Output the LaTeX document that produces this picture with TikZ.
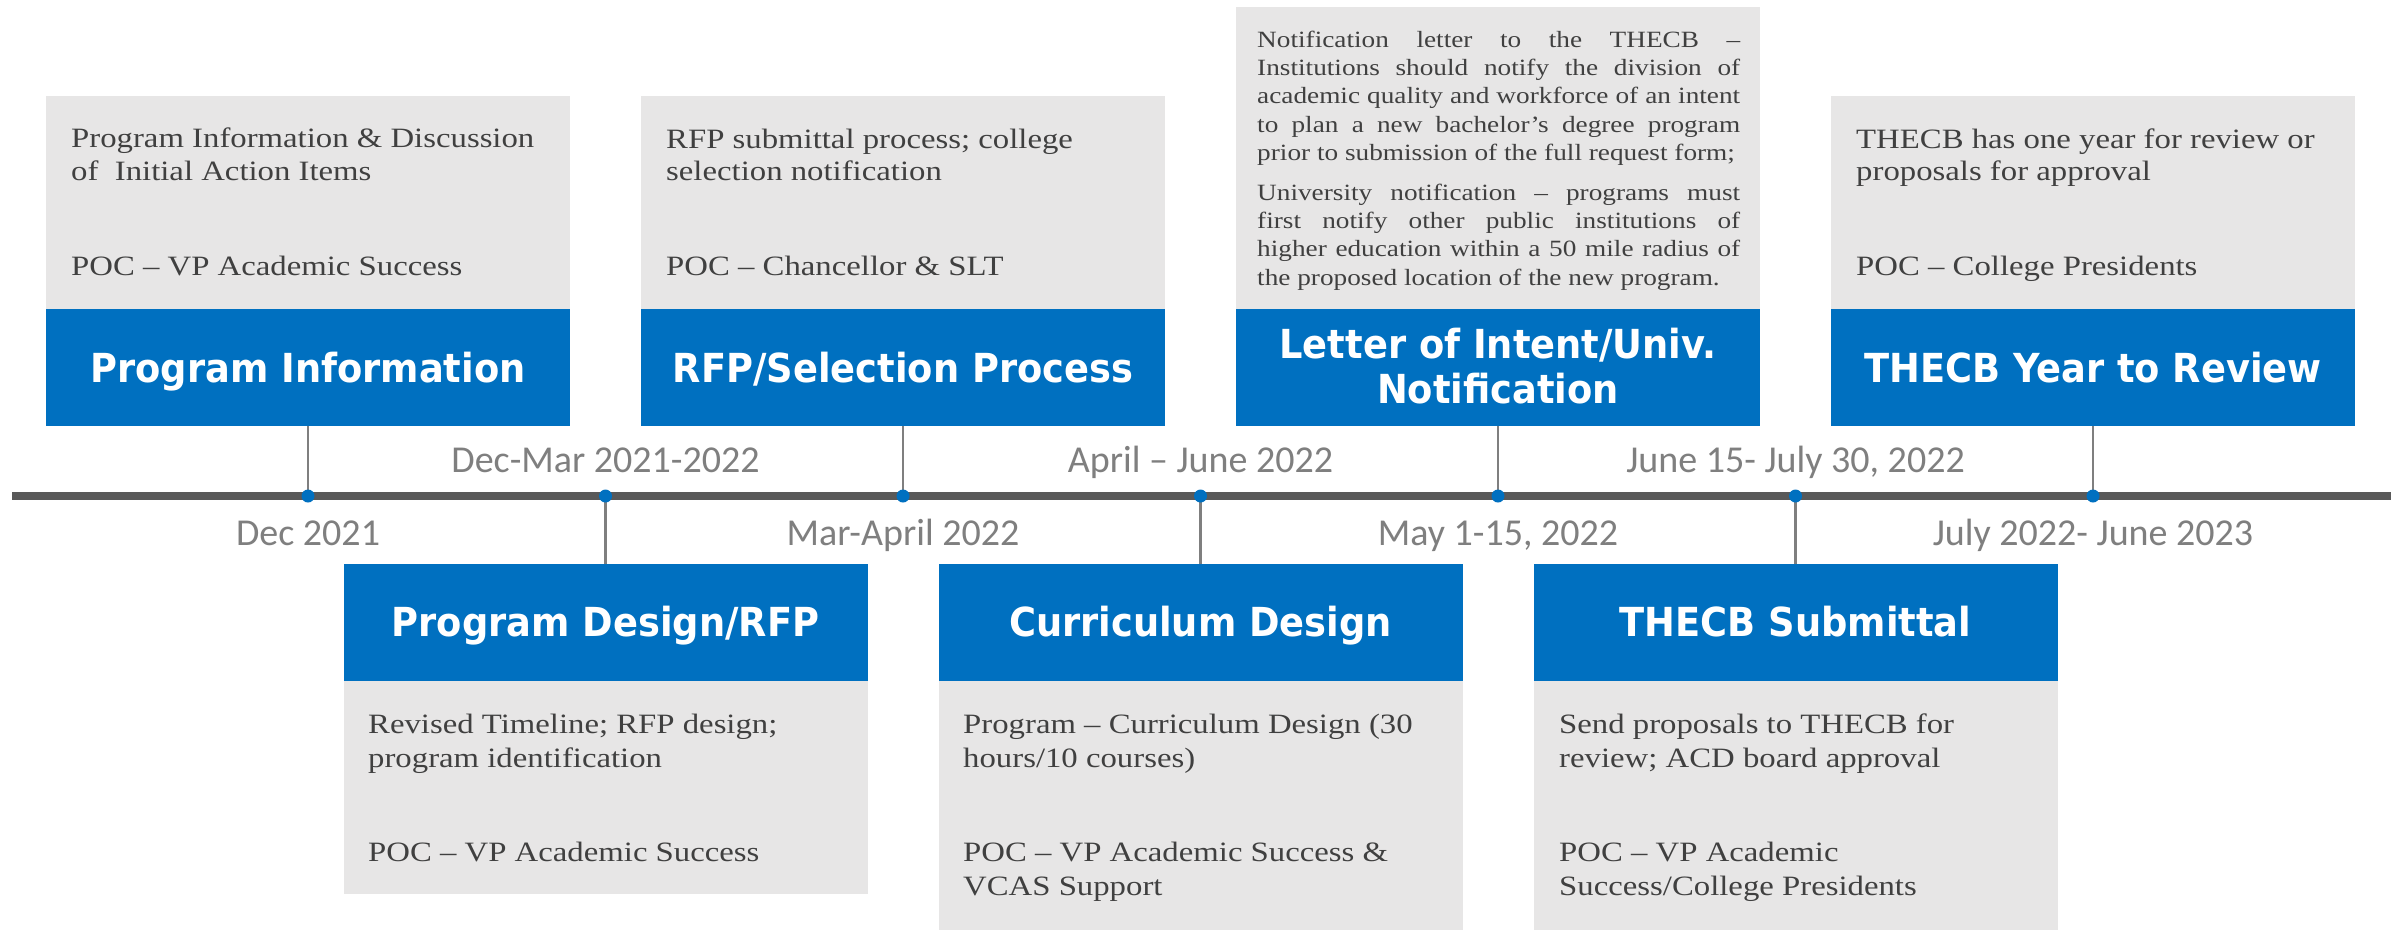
\documentclass[tikz,border=0pt]{standalone}
\usepackage{fontspec}
\setmainfont{Liberation Serif}
\newfontfamily\bodyf[FakeStretch=1.17]{Liberation Serif}
\newfontfamily\headf[FakeStretch=0.92]{DejaVu Sans Bold}
\newfontfamily\datef{Carlito}
\definecolor{hblue}{HTML}{0070C0}
\definecolor{boxgray}{HTML}{E7E6E6}
\definecolor{bodygray}{HTML}{404040}
\definecolor{dategray}{HTML}{7F7F7F}
\definecolor{conngray}{HTML}{7F7F7F}
\definecolor{linegray}{HTML}{595959}
\begin{document}
\begin{tikzpicture}[x=1pt,y=-1pt,
  graybox/.style={fill=boxgray, draw=none, inner sep=0pt, minimum width=524pt},
  bluebox/.style={fill=hblue, draw=none, inner sep=0pt, minimum width=524pt, minimum height=117pt},
  htext/.style={text=white, font=\headf\fontsize{40}{45}\selectfont, inner sep=0pt, anchor=base},
  btext/.style={text=bodygray, font=\bodyf\fontsize{28}{33}\selectfont, inner sep=0pt, anchor=base west},
  ltext/.style={text=bodygray, font=\bodyf\fontsize{23.3}{28}\selectfont, inner sep=0pt, anchor=base west},
  dtext/.style={text=dategray, font=\datef\fontsize{38}{44}\selectfont, inner sep=0pt, anchor=base},
  conn/.style={draw=conngray, line width=2.5pt},
  tline/.style={draw=linegray, line width=8pt},
  tdot/.style={circle, fill=hblue, draw=none, inner sep=0pt, minimum size=13pt}]
\path[use as bounding box, fill=white] (0,0) rectangle (2402,930);

% dot positions
\coordinate (p1) at (308,496);
\coordinate (p2) at (605.5,496);
\coordinate (p3) at (903,496);
\coordinate (p4) at (1200.5,496);
\coordinate (p5) at (1498,496);
\coordinate (p6) at (1795.5,496);
\coordinate (p7) at (2093,496);
\coordinate (tl) at (12,496);
\coordinate (tr) at (2391,496);

% ---- top boxes
\node[graybox, anchor=north, minimum height=213pt] (g1) at (308,96) {};
\node[bluebox, anchor=north] (b1) at (308,309) {};
\node[htext] (h1) at (308,382) {Program Information};
\node[btext] (t1a) at (71,147) {Program Information \& Discussion};
\node[btext] (t1b) at (71,180) {of\ \ Initial Action Items};
\node[btext] (t1c) at (71,275) {POC – VP Academic Success};

\node[graybox, anchor=north, minimum height=213pt] (g3) at (903,96) {};
\node[bluebox, anchor=north] (b3) at (903,309) {};
\node[htext] (h3) at (903,382) {RFP/Selection Process};
\node[btext] (t3a) at (666,148) {RFP submittal process; college};
\node[btext] (t3b) at (666,180) {selection notification};
\node[btext] (t3c) at (666,275) {POC – Chancellor \& SLT};

\node[graybox, anchor=north, minimum height=302pt] (g5) at (1498,7) {};
\node[bluebox, anchor=north] (b5) at (1498,309) {};
\node[htext] (h5a) at (1498,358) {Letter of Intent/Univ.};
\node[htext] (h5b) at (1498,403) {Notification};
\node[ltext] (t5a) at (1257,47) {\makebox[483pt][s]{Notification letter to the THECB –}};
\node[ltext] (t5b) at (1257,75.3) {\makebox[483pt][s]{Institutions should notify the division of}};
\node[ltext] (t5c) at (1257,103.6) {\makebox[483pt][s]{academic quality and workforce of an intent}};
\node[ltext] (t5d) at (1257,132) {\makebox[483pt][s]{to plan a new bachelor’s degree program}};
\node[ltext] (t5e) at (1257,160.3) {prior to submission of the full request form;};
\node[ltext] (t5f) at (1257,200) {\makebox[483pt][s]{University notification – programs must}};
\node[ltext] (t5g) at (1257,228.3) {\makebox[483pt][s]{first notify other public institutions of}};
\node[ltext] (t5h) at (1257,256.6) {\makebox[483pt][s]{higher education within a 50 mile radius of}};
\node[ltext] (t5i) at (1257,285) {the proposed location of the new program.};

\node[graybox, anchor=north, minimum height=213pt] (g7) at (2093,96) {};
\node[bluebox, anchor=north] (b7) at (2093,309) {};
\node[htext] (h7) at (2093,382) {THECB Year to Review};
\node[btext] (t7a) at (1856,148) {THECB has one year for review or};
\node[btext] (t7b) at (1856,180) {proposals for approval};
\node[btext] (t7c) at (1856,275) {POC – College Presidents};

% ---- bottom boxes
\node[bluebox, anchor=north] (b2) at (605.5,564) {};
\node[graybox, anchor=north, minimum height=213pt] (g2) at (605.5,681) {};
\node[htext] (h2) at (605.5,636) {Program Design/RFP};
\node[btext] (t2a) at (368,733) {Revised Timeline; RFP design;};
\node[btext] (t2b) at (368,767) {program identification};
\node[btext] (t2c) at (368,861) {POC – VP Academic Success};

\node[bluebox, anchor=north] (b4) at (1200.5,564) {};
\node[graybox, anchor=north, minimum height=249pt] (g4) at (1200.5,681) {};
\node[htext] (h4) at (1200.5,636) {Curriculum Design};
\node[btext] (t4a) at (963,733) {Program – Curriculum Design (30};
\node[btext] (t4b) at (963,767) {hours/10 courses)};
\node[btext] (t4c) at (963,861) {POC – VP Academic Success \&};
\node[btext] (t4d) at (963,895) {VCAS Support};

\node[bluebox, anchor=north] (b6) at (1795.5,564) {};
\node[graybox, anchor=north, minimum height=249pt] (g6) at (1795.5,681) {};
\node[htext] (h6) at (1795.5,636) {THECB Submittal};
\node[btext] (t6a) at (1559,733) {Send proposals to THECB for};
\node[btext] (t6b) at (1559,767) {review; ACD board approval};
\node[btext] (t6c) at (1559,861) {POC – VP Academic};
\node[btext] (t6d) at (1559,895) {Success/College Presidents};

% ---- timeline
\draw[tline] (tl) -- (tr);
\draw[conn] (b1.south) -- (p1);
\draw[conn] (b3.south) -- (p3);
\draw[conn] (b5.south) -- (p5);
\draw[conn] (b7.south) -- (p7);
\draw[conn] (p2) -- (b2.north);
\draw[conn] (p4) -- (b4.north);
\draw[conn] (p6) -- (b6.north);
\node[tdot] (d1) at (p1) {};
\node[tdot] (d2) at (p2) {};
\node[tdot] (d3) at (p3) {};
\node[tdot] (d4) at (p4) {};
\node[tdot] (d5) at (p5) {};
\node[tdot] (d6) at (p6) {};
\node[tdot] (d7) at (p7) {};

% ---- dates
\node[dtext] (l1) at (308,545) {Dec 2021};
\node[dtext] (l2) at (605.5,472) {Dec-Mar 2021-2022};
\node[dtext] (l3) at (903,545) {Mar-April 2022};
\node[dtext] (l4) at (1200.5,472) {April – June 2022};
\node[dtext] (l5) at (1498,545) {May 1-15, 2022};
\node[dtext] (l6) at (1795.5,472) {June 15- July 30, 2022};
\node[dtext] (l7) at (2093,545) {July 2022- June 2023};
\end{tikzpicture}
\end{document}
